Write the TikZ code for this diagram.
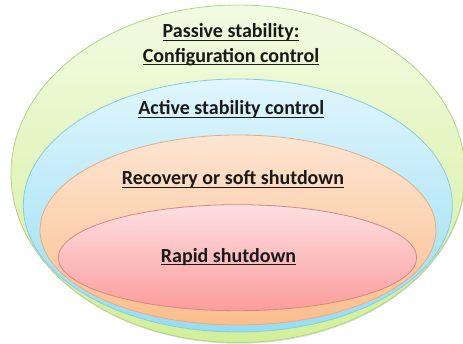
\documentclass[tikz,border=0pt]{standalone}
\usepackage{fontspec}
\setmainfont{Carlito}
\usetikzlibrary{positioning}
\definecolor{greenTop}{HTML}{F2FBE2}
\definecolor{greenBot}{HTML}{D2EF98}
\definecolor{greenLine}{HTML}{B2D487}
\definecolor{blueTop}{HTML}{E0F6FD}
\definecolor{blueBot}{HTML}{96DDF3}
\definecolor{blueLine}{HTML}{88CBDF}
\definecolor{orangeTop}{HTML}{FDE5D2}
\definecolor{orangeBot}{HTML}{FBBE8C}
\definecolor{orangeLine}{HTML}{E6AB84}
\definecolor{redTop}{HTML}{FDDFE2}
\definecolor{redBot}{HTML}{FC9C9C}
\definecolor{redLine}{HTML}{D08888}
% underline set at a fixed depth below the baseline
\newcommand{\ulbox}[1]{\setbox0\hbox{#1}\rlap{\rule[-2.8pt]{\wd0}{1.2pt}}\box0}

\begin{document}
\begin{tikzpicture}[x=1pt,y=-1pt,
  ring/.style={line width=0.8pt},
  ringtext/.style={font=\fontsize{20}{24}\selectfont\bfseries, anchor=base,
    inner sep=0pt, text=black!90}]
  \useasboundingbox (0,0) rectangle (463,344);
  % soft shadow under the outer ring
  \fill[black!30, opacity=0.45] (238.5,175) ellipse [x radius=227, y radius=168.75];
  % nested rings, outer to inner
  \path[ring, draw=greenLine, top color=greenTop, bottom color=greenBot]
    (238,173.75) ellipse [x radius=227, y radius=168.75];
  \path[ring, draw=blueLine, top color=blueTop, bottom color=blueBot]
    (237.8,205.5) ellipse [x radius=214.5, y radius=126.5];
  \path[ring, draw=orangeLine, top color=orangeTop, bottom color=orangeBot]
    (238,230) ellipse [x radius=198, y radius=95];
  \path[ring, draw=redLine, top color=redTop, bottom color=redBot]
    (237.5,257.7) ellipse [x radius=179.2, y radius=53];
  % ring captions
  \node[ringtext] (passive) at (231,38) {\ulbox{Passive stability:}};
  \node[ringtext] (config) at (231,62.5) {\ulbox{Configuration control}};
  \node[ringtext] (active) at (231.3,115) {\ulbox{Active stability control}};
  \node[ringtext] (recovery) at (233,185) {\ulbox{Recovery or soft shutdown}};
  \node[ringtext] (rapid) at (228.5,262.5) {\ulbox{Rapid shutdown}};
\end{tikzpicture}
\end{document}
